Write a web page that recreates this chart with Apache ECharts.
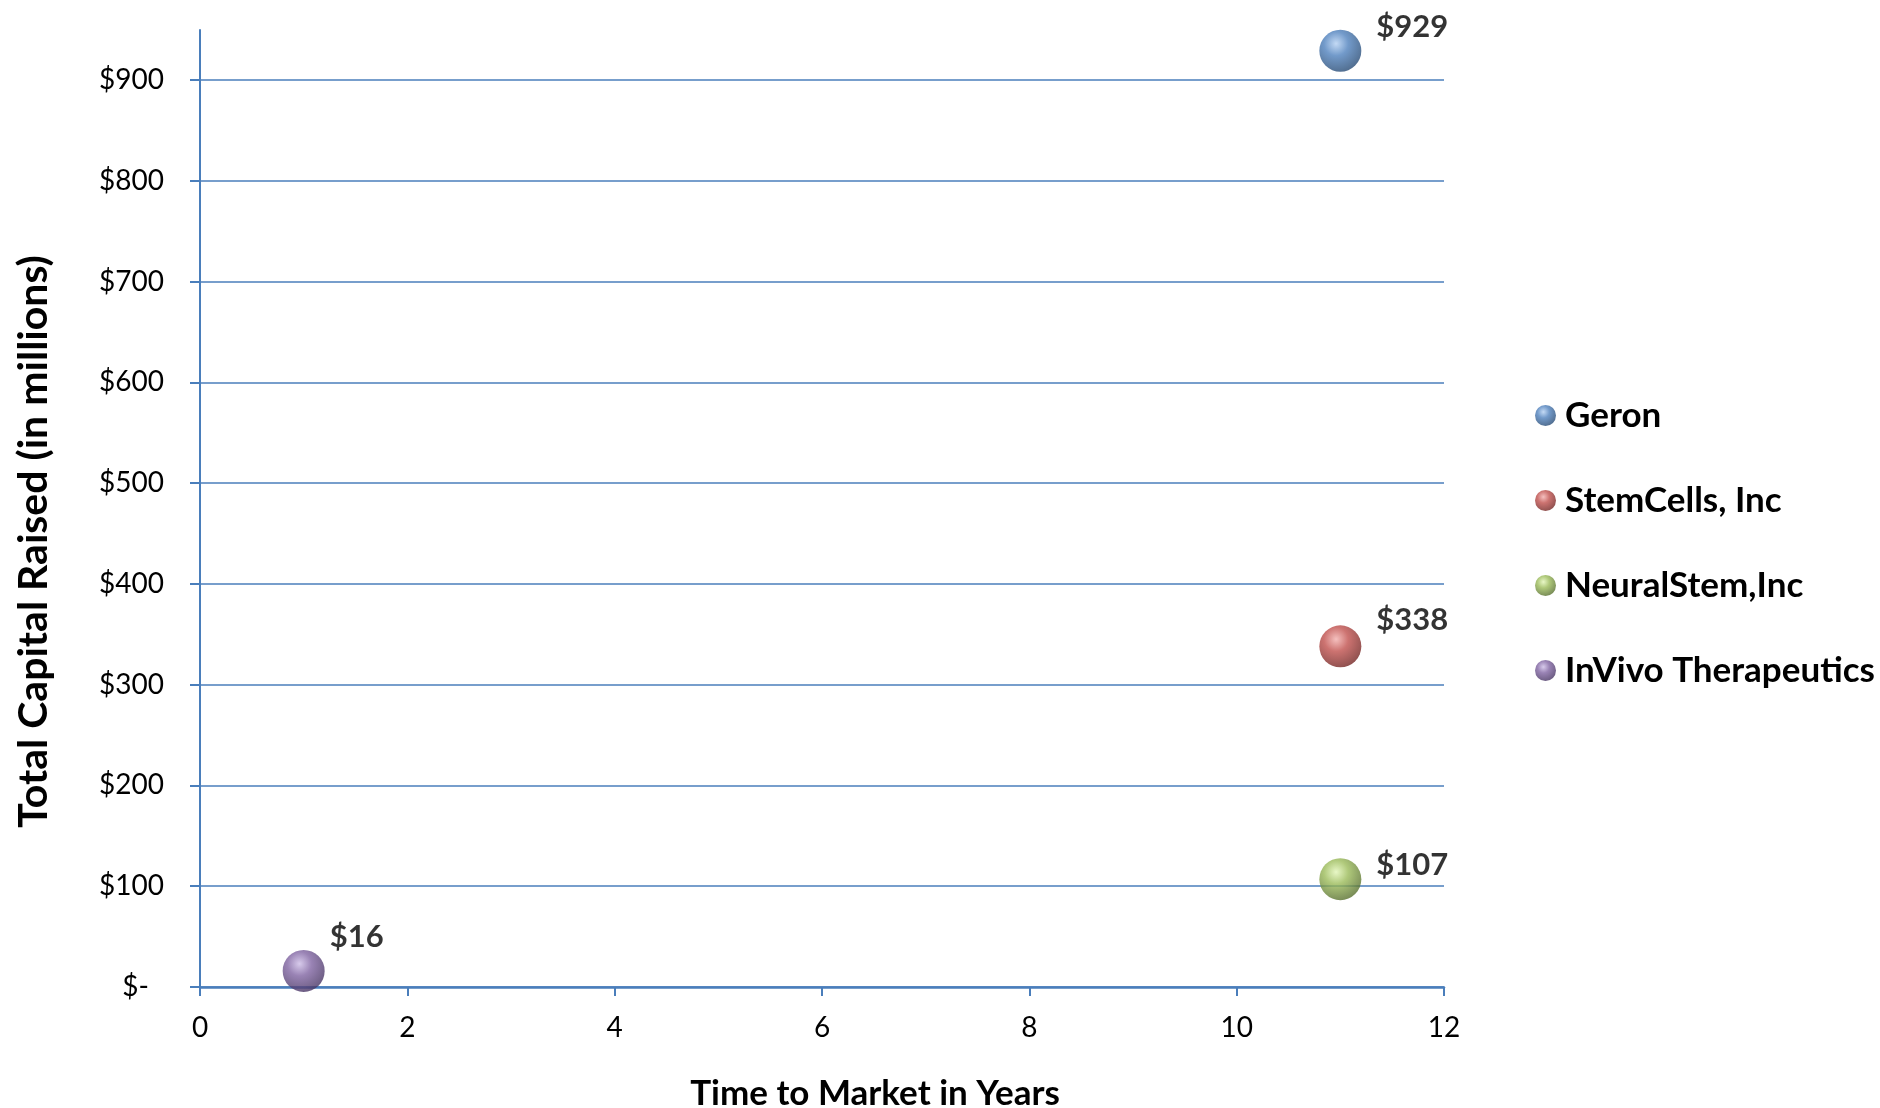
<!DOCTYPE html>
<html>
<head>
<meta charset="utf-8">
<script src="https://cdn.jsdelivr.net/npm/echarts@6/dist/echarts.min.js"></script>
<style>
html,body{margin:0;padding:0;background:#fff;}
#chart{width:1880px;height:1108px;}
</style>
</head>
<body>
<div id="chart"></div>
<script>
// ---- data ----
const companies = ["Geron", "StemCells, Inc", "NeuralStem,Inc", "InVivo Therapeutics"];
const yearsToMarket = [11, 11, 11, 1];
const capitalRaised = [929, 338, 107, 16];
const xTicks = [0, 2, 4, 6, 8, 10, 12];
const yTicks = [0, 100, 200, 300, 400, 500, 600, 700, 800, 900];

// ---- styles ----
const baseColors = ["#4f81bd", "#c0504d", "#9bbb59", "#8064a2"];
const lightColors = ["#b4d0f2", "#f2b0ae", "#e2f5b8", "#cdbde6"];
const darkColors = ["#23466f", "#6e2220", "#52692a", "#43305e"];
const labelOffsets = [[0, -24], [0, -26], [0, -14], [-10, -34]];
const FONT = "Lato";
const AXIS_BLUE = "#4a7ebb";

const series = companies.map((name, i) => ({
  name: name,
  type: "scatter",
  xAxisIndex: 0,
  yAxisIndex: 0,
  clip: false,
  symbol: "circle",
  symbolSize: 42,
  itemStyle: {
    color: {
      type: "radial", x: 0.4, y: 0.33, r: 0.72,
      colorStops: [
        {offset: 0, color: lightColors[i]},
        {offset: 0.4, color: baseColors[i]},
        {offset: 1, color: darkColors[i]}
      ]
    }
  },
  label: {
    show: true,
    position: "right",
    distance: 15,
    offset: labelOffsets[i],
    formatter: p => "$" + p.value[1],
    color: "#000",
    fontFamily: FONT,
    fontWeight: "bold",
    fontSize: 31
  },
  data: [[yearsToMarket[i], capitalRaised[i]]]
}));

const chart = echarts.init(document.getElementById("chart"), null, {renderer: "canvas"});
chart.setOption({
  animation: false,
  backgroundColor: "#fff",
  textStyle: {fontFamily: FONT},
  grid: [
    {left: 200, right: 436, top: 80, bottom: 121, containLabel: false, outerBoundsMode: "none"},
    {left: 200, right: 436, top: 30, bottom: 121, containLabel: false, outerBoundsMode: "none"}
  ],
  legend: {
    orient: "vertical",
    left: 1530,
    top: 393,
    itemWidth: 21,
    itemHeight: 21,
    itemGap: 50,
    icon: "circle",
    data: companies,
    textStyle: {
      fontFamily: FONT, fontWeight: "bold", fontSize: 35, color: "#000",
      padding: [0, 0, 0, 4]
    }
  },
  xAxis: [
    {
      gridIndex: 0,
      type: "value",
      min: xTicks[0],
      max: xTicks[xTicks.length - 1],
      interval: xTicks[1] - xTicks[0],
      name: "Time to Market in Years",
      nameLocation: "middle",
      nameGap: 89,
      nameTextStyle: {
        fontFamily: FONT, fontWeight: "bold", fontSize: 35, color: "#000",
        padding: [0, 0, 0, 106]
      },
      axisLine: {show: true, onZero: false, lineStyle: {color: AXIS_BLUE, width: 2.5}},
      axisTick: {show: true, length: 9, inside: false, lineStyle: {color: AXIS_BLUE, width: 2}},
      axisLabel: {margin: 27, fontFamily: FONT, fontSize: 28, color: "#000"},
      splitLine: {show: false}
    },
    {
      gridIndex: 1,
      type: "value",
      min: 0, max: 12,
      show: false
    }
  ],
  yAxis: [
    {
      gridIndex: 0,
      type: "value",
      min: yTicks[0],
      max: yTicks[yTicks.length - 1],
      interval: yTicks[1] - yTicks[0],
      name: "Total Capital Raised (in millions)",
      nameLocation: "middle",
      nameGap: 146,
      nameTextStyle: {
        fontFamily: FONT, fontWeight: "bold", fontSize: 41, color: "#000",
        padding: [0, 16, 0, 0]
      },
      axisLine: {show: false},
      axisTick: {show: true, length: 10, inside: false, lineStyle: {color: AXIS_BLUE, width: 2}},
      axisLabel: {
        margin: 36, fontFamily: FONT, fontSize: 28, color: "#000",
        formatter: v => v === 0 ? "{z|$-}" : "$" + v,
        rich: {z: {fontFamily: FONT, fontSize: 28, color: "#000", padding: [0, 15, 0, 0]}}
      },
      splitLine: {show: true, lineStyle: {color: AXIS_BLUE, width: 1.5}}
    },
    {
      gridIndex: 1,
      type: "value",
      min: 0, max: 950,
      axisLine: {show: true, lineStyle: {color: AXIS_BLUE, width: 2}},
      axisTick: {show: false},
      axisLabel: {show: false},
      splitLine: {show: false}
    }
  ],
  series: series
});
</script>
</body>
</html>
